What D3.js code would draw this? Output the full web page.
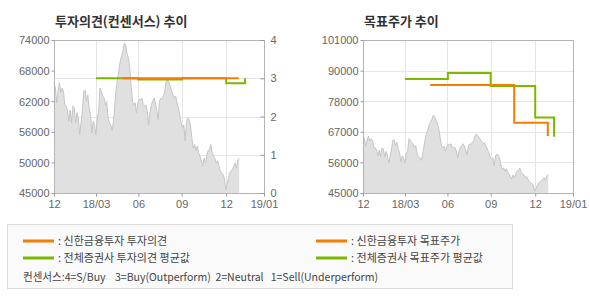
<!DOCTYPE html>
<html>
<head>
<meta charset="utf-8">
<script src="https://cdn.jsdelivr.net/npm/d3@7"></script>
<style>
  body { margin: 0; background: #fff; }
  svg text { font-family: "Liberation Sans", Arial, sans-serif; }
  .kr { font-family: "Noto Sans CJK KR", "Noto Sans", sans-serif; }
</style>
</head>
<body>
<svg id="chart" width="590" height="300"></svg>
<script>
// x axis labels (evenly spaced-ish trading index positions)
const xLabels = ["12", "18/03", "06", "09", "12", "19/01"];
const xTickPos = [0, 1, 2.01, 3.04, 4.1, 5];

// daily close (won)
const price = [
  65900, 64900, 62100, 64300, 65900, 64000, 64900, 64300, 61700, 61500,
  60700, 58600, 60700, 58300, 61500, 61100, 58300, 60200, 59200, 56000,
  58300, 60700, 64300, 64500, 62400, 63600, 61100, 59800, 56400, 58600,
  57900, 56000, 59200, 60500, 64900, 64300, 63400, 63000, 61700, 62400,
  59200, 58300, 57900, 56900, 58600, 61700, 64900, 66800, 68100, 70000,
  71000, 71900, 73400, 73100, 71500, 70600, 68700, 65500, 62400, 61700,
  62100, 60200, 62100, 62700, 62700, 63000, 61700, 61500, 61700, 60500,
  57900, 60200, 61700, 62400, 63000, 62100, 60700, 58900, 62400, 63000,
  62700, 63600, 64300, 66200, 66500, 65900, 65300, 64300, 63600, 63000,
  63400, 62100, 61100, 59800, 58300, 57300, 57900, 54900, 58600, 59200,
  58900, 57700, 55400, 53500, 54200, 53000, 53900, 52600, 52000, 51100,
  50100, 51600, 50700, 52000, 53000, 53200, 54200, 52600, 52000, 51600,
  50700, 51100, 50100, 49200, 48800, 48500, 47800, 45600, 46600, 47800,
  48800, 49200, 49400, 50100, 50700, 49700, 51300, 51600
];
const priceEnd = 4.41;

// consensus opinion (4=S/Buy ... 1=Sell), [x position, value]
const opinionShinhan = [[1.62, 3], [4.40, 3]];
const opinionAvg = [[1.0, 3], [2.0, 2.97], [3.05, 3], [4.1, 2.87], [4.55, 3]];

// target price steps, [x position, won]
const targetShinhan = [[1.6, 84500], [3.6, 70700], [4.40, 65900]];
const targetAvg = [[1.0, 86700], [2.02, 88900], [3.04, 84200], [4.1, 72600], [4.55, 65600]];

const leftPriceTicks = ["45000", "50000", "56000", "62000", "68000", "74000"];
const rightPriceTicks = ["45000", "56000", "67000", "78000", "90000", "101000"];
const opinionTicks = [0, 1, 2, 3, 4];

const legendItems = [
  { label: ": 신한금융투자 투자의견", color: "#f57c00", col: 0, row: 0 },
  { label: ": 신한금융투자 목표주가", color: "#f57c00", col: 1, row: 0 },
  { label: ": 전체증권사 투자의견 평균값", color: "#7cb800", col: 0, row: 1 },
  { label: ": 전체증권사 목표주가 평균값", color: "#7cb800", col: 1, row: 1 },
];
const consensusNote = "컨센서스:4=S/Buy    3=Buy(Outperform)  2=Neutral   1=Sell(Underperform)";

const ORANGE = "#f57c00", GREEN = "#7cb800";
const svg = d3.select("#chart");

function drawPanel(opts) {
  const { x0, x1, y0, y1 } = opts;
  const g = svg.append("g");
  const x = d3.scaleLinear().domain([0, 5]).range([x0, x1]);
  const yP = d3.scaleLinear().domain(opts.priceDomain).range([y1, y0]);
  const n = opts.priceTicks.length;
  const priceTickVals = d3.range(n).map(i => opts.priceDomain[0] + i * (opts.priceDomain[1] - opts.priceDomain[0]) / (n - 1));

  // gridlines
  g.selectAll(".vgrid").data(xTickPos.slice(1, -1)).join("line")
    .attr("x1", d => Math.round(x(d)) + 0.5).attr("x2", d => Math.round(x(d)) + 0.5)
    .attr("y1", y0).attr("y2", y1).attr("stroke", "#e6e6e6");
  g.selectAll(".hgrid").data(opts.hGrid).join("line")
    .attr("x1", x0).attr("x2", x1)
    .attr("y1", d => Math.round(opts.hScale(d)) + 0.5).attr("y2", d => Math.round(opts.hScale(d)) + 0.5)
    .attr("stroke", "#e6e6e6");

  // price area
  const px = d3.scaleLinear().domain([0, price.length - 1]).range([0, priceEnd]);
  const area = d3.area().x((d, i) => x(px(i))).y0(y1).y1(d => yP(d));
  const line = d3.line().x((d, i) => x(px(i))).y(d => yP(d));
  g.append("path").datum(price).attr("d", area).attr("fill", "#e0e0e0");
  g.append("path").datum(price).attr("d", line).attr("fill", "none").attr("stroke", "#c6c6c6").attr("stroke-width", 1);

  // step lines
  opts.steps.forEach(s => {
    g.append("path").datum(s.data)
      .attr("d", d3.line().curve(d3.curveStepAfter).x(d => x(d[0])).y(d => s.scale(d[1])))
      .attr("fill", "none").attr("stroke", s.color).attr("stroke-width", 2);
  });

  // frame
  g.append("rect").attr("x", x0 + 0.5).attr("y", y0 + 0.5)
    .attr("width", x1 - x0).attr("height", y1 - y0)
    .attr("fill", "none").attr("stroke", "#b4b4b4");

  // left axis
  const ax = g.append("g").attr("transform", `translate(${x0 + 0.5},0)`)
    .call(d3.axisLeft(yP).tickValues(priceTickVals).tickFormat((d, i) => opts.priceTicks[i]).tickSize(3).tickPadding(2));
  ax.select(".domain").remove();
  ax.selectAll("line").attr("stroke", "#999");
  ax.selectAll("text").attr("fill", "#666").style("font-size", "11px").attr("dy", "0.36em");

  // bottom axis
  const bx = g.append("g").attr("transform", `translate(0,${y1 + 0.5})`)
    .call(d3.axisBottom(x).tickValues(xTickPos).tickFormat((d, i) => xLabels[i]).tickSize(3).tickPadding(4));
  bx.select(".domain").remove();
  bx.selectAll("line").attr("stroke", "#999");
  bx.selectAll("text").attr("fill", "#666").style("font-size", "11px");

  // title
  g.append("text").attr("class", "kr").attr("x", x0 + 1).attr("y", 26)
    .attr("fill", "#333").style("font-size", "13px").style("font-weight", "bold")
    .text(opts.title);
  return { g, x };
}

// left: opinion chart
const yOp = d3.scaleLinear().domain([0, 4]).range([193, 40]);
const left = drawPanel({
  x0: 54, x1: 264, y0: 40, y1: 193,
  priceDomain: [45000, 74000], priceTicks: leftPriceTicks,
  hGrid: [1, 2, 3], hScale: yOp,
  steps: [
    { data: opinionAvg, color: GREEN, scale: yOp },
    { data: opinionShinhan, color: ORANGE, scale: yOp },
  ],
  title: "투자의견(컨센서스) 추이",
});
const rax = left.g.append("g").attr("transform", "translate(264.5,0)")
  .call(d3.axisRight(yOp).tickValues(opinionTicks).tickFormat(d3.format("d")).tickSize(-4).tickPadding(6));
rax.select(".domain").remove();
rax.selectAll("line").attr("stroke", "#999");
rax.selectAll("text").attr("fill", "#666").style("font-size", "11px");

// right: target price chart
const yRightPrice = d3.scaleLinear().domain([45000, 101000]).range([193, 40]);
const rightTickVals = d3.range(6).map(i => 45000 + i * 11200);
drawPanel({
  x0: 363, x1: 573, y0: 40, y1: 193,
  priceDomain: [45000, 101000], priceTicks: rightPriceTicks,
  hGrid: rightTickVals.slice(1, -1), hScale: yRightPrice,
  steps: [
    { data: targetAvg, color: GREEN, scale: yRightPrice },
    { data: targetShinhan, color: ORANGE, scale: yRightPrice },
  ],
  title: "목표주가 추이",
});

// legend
const lg = svg.append("g");
lg.append("rect").attr("x", 7.5).attr("y", 224.5).attr("width", 505).attr("height", 64)
  .attr("fill", "#fafafa").attr("stroke", "#dcdcdc");
const colX = [23, 316];
const rowY = [241, 258];
legendItems.forEach(d => {
  lg.append("line").attr("x1", colX[d.col]).attr("x2", colX[d.col] + 31)
    .attr("y1", rowY[d.row]).attr("y2", rowY[d.row])
    .attr("stroke", d.color).attr("stroke-width", 3);
  lg.append("text").attr("class", "kr").attr("x", colX[d.col] + 35).attr("y", rowY[d.row] + 4)
    .attr("fill", "#444").style("font-size", "11px").text(d.label);
});
lg.append("text").attr("class", "kr").attr("x", 23).attr("y", 281)
  .attr("fill", "#444").style("font-size", "11px").style("white-space", "pre")
  .attr("textLength", 355).attr("lengthAdjust", "spacingAndGlyphs")
  .text(consensusNote);
</script>
</body>
</html>
